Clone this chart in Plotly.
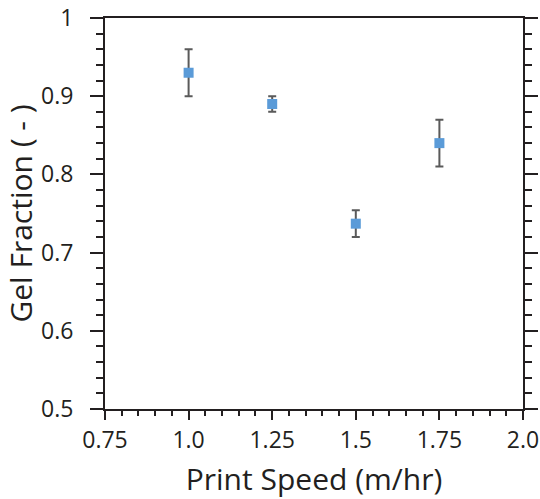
import plotly.graph_objects as go

speed = [1.0, 1.25, 1.5, 1.75]
gel_fraction = [0.93, 0.89, 0.737, 0.84]
gel_err = [0.03, 0.01, 0.017, 0.03]

x_tickvals = [0.75, 1.0, 1.25, 1.5, 1.75, 2.0]
x_ticktext = ["0.75", "1.0", "1.25", "1.5", "1.75", "2.0"]
y_tickvals = [0.5, 0.6, 0.7, 0.8, 0.9, 1.0]
y_ticktext = ["0.5", "0.6", "0.7", "0.8", "0.9", "1"]

FONT = "Open Sans"
AX = "#231f20"

fig = go.Figure()
fig.add_trace(go.Scatter(
    x=speed, y=gel_fraction, mode="markers",
    marker=dict(symbol="square", size=10, color="#5b9bd8"),
    error_y=dict(type="data", array=gel_err, visible=True,
                 color="#5a5a5a", thickness=2, width=4),
    showlegend=False,
))

fig.update_layout(
    width=540, height=499,
    margin=dict(l=105, r=17, t=18, b=90),
    plot_bgcolor="white", paper_bgcolor="white",
    font=dict(family=FONT, color="#231f20"),
)
fig.update_xaxes(
    range=[0.75, 2.0], tickvals=x_tickvals, ticktext=x_ticktext,
    showgrid=False, zeroline=False, automargin=False,
    showline=True, linecolor=AX, linewidth=2, mirror=True,
    ticks="outside", ticklen=9, tickwidth=2, tickcolor=AX,
    tickfont=dict(size=23, family=FONT),
    minor=dict(dtick=0.05, ticks="outside", ticklen=5, tickwidth=1.5, tickcolor=AX, showgrid=False),
    title=dict(text="Print Speed (m/hr)", font=dict(size=30, family=FONT), standoff=18),
)
fig.update_yaxes(
    range=[0.5, 1.0], tickvals=y_tickvals, ticktext=y_ticktext,
    showgrid=False, zeroline=False, automargin=False,
    showline=True, linecolor=AX, linewidth=2, mirror="allticks",
    ticks="outside", ticklen=13, tickwidth=2, tickcolor=AX,
    ticklabelstandoff=12,
    tickfont=dict(size=23, family=FONT),
    minor=dict(dtick=0.02, tick0=0.5, ticks="outside", ticklen=7, tickwidth=1.5, tickcolor=AX, showgrid=False),
    title=dict(text="Gel Fraction ( - )", font=dict(size=30, family=FONT), standoff=4),
)

fig.write_html("out.html")
